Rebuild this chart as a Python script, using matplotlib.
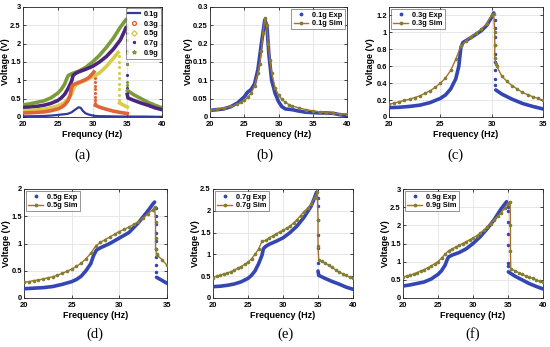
import numpy as np
import matplotlib
matplotlib.use("Agg")
import matplotlib.pyplot as plt
from matplotlib.lines import Line2D

plt.rcParams["font.family"] = ["Liberation Sans", "DejaVu Sans"]

# ---------------- data ----------------
# 0.1 g
exp01_f = [20, 21, 22, 23, 24, 25, 25.5, 26, 26.5, 27, 27.5, 28, 28.3, 28.6, 29, 29.5, 30, 30.5, 31, 32, 33, 34, 35, 36, 37, 38, 39, 40]
exp01_v = [0.018, 0.020, 0.022, 0.028, 0.038, 0.055, 0.068, 0.075, 0.09, 0.13, 0.20, 0.265, 0.25, 0.17, 0.10, 0.065, 0.042, 0.028, 0.022, 0.020, 0.016, 0.013, 0.012, 0.011, 0.011, 0.010, 0.006, 0.004]
sim01_f = [20, 21, 22, 23, 24, 24.5, 25, 25.5, 26, 26.5, 27, 27.25, 27.5, 27.75, 28, 28.25, 28.5, 28.75, 29, 29.5, 30, 30.5, 31, 31.5, 32, 33, 34, 35, 36, 37, 38, 39, 40]
sim01_v = [0.018, 0.021, 0.024, 0.029, 0.035, 0.040, 0.045, 0.054, 0.065, 0.085, 0.12, 0.145, 0.18, 0.23, 0.27, 0.25, 0.20, 0.155, 0.12, 0.08, 0.06, 0.048, 0.040, 0.034, 0.030, 0.025, 0.020, 0.017, 0.014, 0.012, 0.010, 0.009, 0.008]

# 0.3 g
exp03_f = [20, 21, 22, 23, 24, 25, 25.5, 26, 26.5, 26.8, 27, 27.2, 28, 29, 29.5, 30, 30.2, np.nan, 30.4, 31, 32, 33, 34, 35]
exp03_v = [0.11, 0.115, 0.125, 0.14, 0.17, 0.22, 0.26, 0.33, 0.45, 0.60, 0.82, 0.88, 0.94, 1.02, 1.08, 1.18, 1.23, np.nan, 0.32, 0.27, 0.21, 0.16, 0.125, 0.095]
exp03_jump_f = 30.3
exp03_jump_v = [1.15, 1.05, 0.95, 0.85, 0.75, 0.65, 0.55, 0.45, 0.38]
sim03_f = [20, 20.5, 21, 21.5, 22, 22.5, 23, 23.5, 24, 24.5, 25, 25.5, 26, 26.5, 27, 27.5, 28, 28.5, 29, 29.5, 30, 30.2, 30.3, 30.3, 30.3, 30.4, 30.5, 31, 31.5, 32, 32.5, 33, 33.5, 34, 34.5, 35]
sim03_v = [0.15, 0.165, 0.18, 0.195, 0.21, 0.23, 0.25, 0.28, 0.31, 0.35, 0.40, 0.46, 0.55, 0.68, 0.84, 0.90, 0.95, 0.99, 1.04, 1.10, 1.20, 1.22, 1.0, 0.85, 0.70, 0.63, 0.60, 0.48, 0.42, 0.37, 0.33, 0.29, 0.265, 0.24, 0.22, 0.20]

# 0.5 g
exp05_f = [20, 21, 22, 23, 24, 25, 25.5, 26, 26.5, 27, 27.3, 27.6, 28, 29, 30, 31, 32, 33, 33.5, 33.7, np.nan, 33.9, 34.5, 35]
exp05_v = [0.17, 0.18, 0.19, 0.21, 0.25, 0.30, 0.34, 0.40, 0.50, 0.63, 0.78, 0.88, 0.92, 1.00, 1.10, 1.20, 1.38, 1.60, 1.72, 1.76, np.nan, 0.38, 0.32, 0.27]
exp05_jump_f = 33.8
exp05_jump_v = [1.65, 1.5, 1.35, 1.2, 1.05, 0.9, 0.75, 0.6, 0.47]
sim05_f = [20, 20.5, 21, 21.5, 22, 22.5, 23, 23.5, 24, 24.5, 25, 25.5, 26, 26.5, 27, 27.5, 28, 28.5, 29, 29.5, 30, 30.5, 31, 31.5, 32, 32.5, 33, 33.5, 33.7, 33.8, 33.8, 33.8, 33.9, 34, 34.5, 35]
sim05_v = [0.29, 0.30, 0.32, 0.33, 0.35, 0.37, 0.39, 0.42, 0.45, 0.49, 0.53, 0.58, 0.64, 0.72, 0.82, 0.95, 1.02, 1.07, 1.12, 1.17, 1.22, 1.26, 1.30, 1.35, 1.40, 1.47, 1.55, 1.62, 1.67, 1.4, 1.1, 0.9, 0.80, 0.78, 0.70, 0.60]

# 0.7 g
exp07_f = [20, 21, 22, 23, 24, 25, 25.5, 26, 26.5, 27, 27.2, 27.5, 28, 29, 30, 31, 32, 33, 34, 34.5, 34.8, np.nan, 35.0, 35.1, 36, 37, 38, 39, 40]
exp07_v = [0.26, 0.27, 0.29, 0.32, 0.37, 0.45, 0.52, 0.62, 0.78, 0.98, 1.13, 1.18, 1.23, 1.30, 1.38, 1.50, 1.65, 1.85, 2.10, 2.30, 2.43, np.nan, 0.62, 0.52, 0.45, 0.38, 0.32, 0.25, 0.20]
exp07_jump_f = 34.95
exp07_jump_v = [2.3, 2.1, 1.8, 1.45, 1.15, 0.8]
sim07_f = [20, 20.5, 21, 21.5, 22, 22.5, 23, 23.5, 24, 24.5, 25, 25.5, 26, 26.5, 27, 27.5, 28, 28.5, 29, 29.5, 30, 30.5, 31, 31.5, 32, 32.5, 33, 33.5, 34, 34.5, 34.9, 35.0, 35.0, 35.1, 35.5, 36, 36.5, 37, 37.5, 38, 38.5, 39, 39.5, 40]
sim07_v = [0.47, 0.50, 0.52, 0.55, 0.57, 0.60, 0.64, 0.68, 0.72, 0.77, 0.82, 0.90, 1.00, 1.12, 1.30, 1.32, 1.38, 1.42, 1.47, 1.51, 1.55, 1.60, 1.65, 1.72, 1.80, 1.89, 1.98, 2.06, 2.15, 2.30, 2.42, 1.8, 1.2, 0.88, 0.84, 0.80, 0.75, 0.70, 0.65, 0.60, 0.56, 0.52, 0.48, 0.45]

# 0.9 g
exp09_f = [20, 21, 22, 23, 24, 25, 25.5, 26, 26.3, 26.5, 27, 28, 29, 30, 31, 32, 33, 34, 34.8, np.nan, 35.05, 36, 37, 38, 39, 40]
exp09_v = [0.33, 0.36, 0.40, 0.44, 0.52, 0.65, 0.75, 0.90, 1.05, 1.13, 1.18, 1.25, 1.35, 1.50, 1.68, 1.90, 2.15, 2.45, 2.65, np.nan, 0.72, 0.60, 0.50, 0.40, 0.32, 0.25]
exp09_jump_f = 34.95
exp09_jump_v = [2.5, 2.4, 2.1, 1.75, 1.45, 0.95, 0.88]
sim09_f = [20, 20.5, 21, 21.5, 22, 22.5, 23, 23.5, 24, 24.5, 25, 25.5, 26, 26.5, 27, 27.5, 28, 28.5, 29, 29.5, 30, 30.5, 31, 31.5, 32, 32.5, 33, 33.5, 34, 34.5, 35, 35.3, 35.35, 35.35, 35.4, 36, 36.5, 37, 37.5, 38, 38.5, 39, 39.5, 40]
sim09_v = [0.58, 0.60, 0.63, 0.66, 0.70, 0.74, 0.78, 0.83, 0.88, 0.94, 1.00, 1.10, 1.20, 1.30, 1.35, 1.40, 1.45, 1.50, 1.55, 1.60, 1.65, 1.71, 1.78, 1.86, 1.95, 2.05, 2.15, 2.25, 2.35, 2.47, 2.60, 2.65, 2.0, 1.3, 0.80, 0.75, 0.70, 0.65, 0.61, 0.57, 0.54, 0.50, 0.46, 0.43]

levels = ["0.1g", "0.3g", "0.5g", "0.7g", "0.9g"]
panel_letters = ["(a)", "(b)", "(c)", "(d)", "(e)", "(f)"]

# ---------------- figure ----------------
W, H = 550, 347
fig = plt.figure(figsize=(W / 100, H / 100), dpi=100)
fig.patch.set_facecolor("white")

def rect(x0, x1, y0, y1):
    return [x0 / W, 1 - y1 / H, (x1 - x0) / W, (y1 - y0) / H]

EXP_C = "#3446B4"
SIM_LC = "#A8702A"
SIM_MC = "#808032"
TICK_FS = 5.4
LAB_FS = 6.5

def style(ax, box, ylab_x, xlim, xticks, ylim, yticks, xlabel="Frequency (Hz)"):
    ax.set_xlim(*xlim)
    ax.set_ylim(*ylim)
    ax.set_xticks(xticks)
    ax.set_yticks(yticks)
    ax.set_yticklabels([("%g" % t) for t in yticks])
    ax.grid(True, color="#e3e3e3", linewidth=0.6)
    ax.set_axisbelow(True)
    for s in ax.spines.values():
        s.set_color("#262626")
        s.set_linewidth(0.6)
    ax.tick_params(direction="in", length=2, width=0.5, labelsize=TICK_FS,
                   top=True, right=True)
    ax.tick_params(axis="x", pad=2.8)
    ax.tick_params(axis="y", pad=1.6)
    for lab in ax.get_xticklabels() + ax.get_yticklabels():
        lab.set_fontweight("bold")
    ax.set_xlabel(xlabel, fontsize=LAB_FS, fontweight="bold", labelpad=1.2)
    ax.set_ylabel("Voltage (V)", fontsize=LAB_FS, fontweight="bold", va="center")
    x0, x1 = box[0], box[1]
    ax.yaxis.set_label_coords((ylab_x - x0) / (x1 - x0), 0.5)

def exp_sim_panel(ax, ef, ev, jf, jv, sf, sv, name, loc):
    ax.plot(ef, ev, color=EXP_C, lw=2.6, solid_capstyle="round", zorder=3)
    if jv is not None:
        ax.plot(np.full(len(jv), jf), jv, ".", color=EXP_C, ms=3, zorder=3)
    ax.plot(sf, sv, color=SIM_LC, lw=1.0, marker=".", ms=3.2,
            mfc=SIM_MC, mec=SIM_MC, zorder=4)
    handles = [Line2D([], [], ls="none", marker=".", ms=3.5, color=EXP_C),
               Line2D([], [], color=SIM_LC, lw=1.0, marker=".", ms=3.5,
                      mfc=SIM_MC, mec=SIM_MC)]
    leg = ax.legend(handles, [name + " Exp", name + " Sim"], loc=loc,
                    prop={"size": 5.3, "weight": "bold"}, frameon=True,
                    fancybox=False, handlelength=2.0, handletextpad=0.5,
                    borderpad=0.3, labelspacing=0.2, borderaxespad=0.3)
    leg.get_frame().set_edgecolor("#444444")
    leg.get_frame().set_linewidth(0.5)

# (a)
box = (23, 162, 7, 117)
ax = fig.add_axes(rect(*box))
a_colors = ["#2E3A9E", "#E0643A", "#D8CC48", "#4B2580", "#7C9C3A"]
a_markers = [None, "o", "D", ".", "*"]
a_ef = [exp01_f, exp03_f, exp05_f, exp07_f, exp09_f]
a_ev = [exp01_v, exp03_v, exp05_v, exp07_v, exp09_v]
a_jf = [None, exp03_jump_f, exp05_jump_f, exp07_jump_f, exp09_jump_f]
a_jv = [None, exp03_jump_v, exp05_jump_v, exp07_jump_v, exp09_jump_v]
for i in range(5):
    lw = 1.6 if i == 0 else 2.6
    ax.plot(a_ef[i], a_ev[i], color=a_colors[i], lw=lw, zorder=3 + (4 - i) * 0.1)
    if a_jv[i] is not None:
        ax.plot(np.full(len(a_jv[i]), a_jf[i]), a_jv[i], ".", color=a_colors[i], ms=2.5, zorder=3)
style(ax, box, 5.5, (20, 40), [20, 25, 30, 35, 40], (0, 3), [0, 0.5, 1, 1.5, 2, 2.5, 3], xlabel="Frequncy (Hz)")
handles = [Line2D([], [], color=a_colors[0], lw=1.6)]
for i in range(1, 5):
    handles.append(Line2D([], [], ls="none", marker=a_markers[i], ms=2.8, color=a_colors[i],
                          mfc="none" if a_markers[i] in ("o", "D") else a_colors[i]))
leg = ax.legend(handles, levels, loc="upper right", prop={"size": 5.3, "weight": "bold"},
                fancybox=False, handlelength=1.6, handletextpad=0.5, borderpad=0.35,
                labelspacing=0.35, borderaxespad=0.15)
leg.get_frame().set_edgecolor("#444444")
leg.get_frame().set_linewidth(0.5)

# (b)
box = (210, 347, 7, 117)
ax = fig.add_axes(rect(*box))
exp_sim_panel(ax, exp01_f, exp01_v, None, None, sim01_f, sim01_v, "0.1g", "upper right")
style(ax, box, 188.5, (20, 40), [20, 25, 30, 35, 40], (0, 0.3), [0, 0.05, 0.1, 0.15, 0.2, 0.25, 0.3])

# (c)
box = (389, 543, 7, 117)
ax = fig.add_axes(rect(*box))
exp_sim_panel(ax, exp03_f, exp03_v, exp03_jump_f, exp03_jump_v, sim03_f, sim03_v, "0.3g", "upper left")
style(ax, box, 370.5, (20, 35), [20, 25, 30, 35], (0, 1.3), [0, 0.2, 0.4, 0.6, 0.8, 1, 1.2])

# (d)
box = (24, 167, 189, 298)
ax = fig.add_axes(rect(*box))
exp_sim_panel(ax, exp05_f, exp05_v, exp05_jump_f, exp05_jump_v, sim05_f, sim05_v, "0.5g", "upper left")
style(ax, box, 6, (20, 35), [20, 25, 30, 35], (0, 2), [0, 0.5, 1, 1.5, 2])

# (e)
box = (213, 353, 189, 298)
ax = fig.add_axes(rect(*box))
exp_sim_panel(ax, exp07_f, exp07_v, exp07_jump_f, exp07_jump_v, sim07_f, sim07_v, "0.7g", "upper left")
style(ax, box, 195.5, (20, 40), [20, 25, 30, 35, 40], (0, 2.5), [0, 0.5, 1, 1.5, 2, 2.5])

# (f)
box = (403, 543, 189, 298)
ax = fig.add_axes(rect(*box))
exp_sim_panel(ax, exp09_f, exp09_v, exp09_jump_f, exp09_jump_v, sim09_f, sim09_v, "0.9g", "upper left")
style(ax, box, 385.5, (20, 40), [20, 25, 30, 35, 40], (0, 3), [0, 0.5, 1, 1.5, 2, 2.5, 3])

# panel letters
letter_pos = [(82, 155), (265, 155), (455, 155), (95, 334), (285, 334), (473, 334)]
for (x, y), t in zip(letter_pos, panel_letters):
    fig.text(x / W, 1 - y / H, t, ha="center", va="center", fontsize=10.5,
             family="Liberation Serif")

fig.savefig("out.png", dpi=100, facecolor="white")
